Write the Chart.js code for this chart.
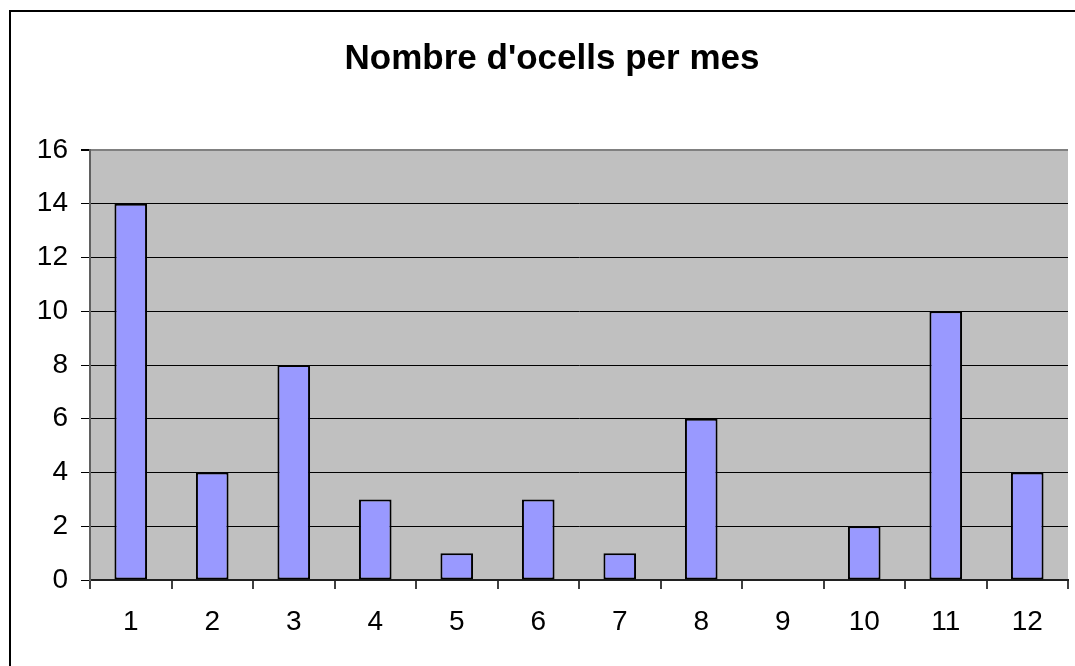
<!DOCTYPE html>
<html>
<head>
<meta charset="utf-8">
<script src="https://cdn.jsdelivr.net/npm/chart.js@4.4.1/dist/chart.umd.min.js"></script>
<style>
  html,body{margin:0;padding:0;background:#fff;overflow:hidden;}
  #frame{position:absolute;left:9px;top:10px;width:2000px;height:2000px;border:2px solid #000;box-sizing:border-box;}
  #c{position:absolute;left:0;top:0;}
</style>
</head>
<body>
<div id="frame"></div>
<canvas id="c" width="1075" height="666"></canvas>
<script>
const months=['1','2','3','4','5','6','7','8','9','10','11','12'];
const birds=[14,4,8,3,1,3,1,6,0,2,10,4];
const yMin=0, yMax=16, yStep=2;
const titleText="Nombre d'ocells per mes";
const fam="'Liberation Sans', Arial, sans-serif";

// grey plot area + title centred on the outer frame (not the canvas)
const plotBg={id:'plotBg',beforeDraw(chart){const a=chart.chartArea,ctx=chart.ctx;ctx.save();ctx.fillStyle='#C0C0C0';ctx.fillRect(a.left,a.top,a.right-a.left,a.bottom-a.top);ctx.restore();}};
const titleDraw={id:'titleDraw',afterDraw(chart){const ctx=chart.ctx;ctx.save();ctx.font='bold 35px '+fam;ctx.fillStyle='#000';ctx.textAlign='center';ctx.textBaseline='alphabetic';ctx.fillText(titleText,552,69);ctx.restore();}};
const font={family:fam,size:28};

new Chart(document.getElementById('c'),{
  type:'bar',
  data:{labels:months,datasets:[{data:birds,backgroundColor:'#9999FF',borderColor:'#000',borderWidth:2,borderSkipped:false,barPercentage:0.4,categoryPercentage:1}]},
  options:{
    responsive:false,animation:false,devicePixelRatio:1,
    layout:{padding:{left:0,right:7,top:150,bottom:0}},
    plugins:{legend:{display:false},tooltip:{enabled:false},title:{display:false}},
    scales:{
      x:{
        offset:true,
        grid:{offset:true,drawOnChartArea:true,color:c=>c.index===12?'#808080':'rgba(0,0,0,0)',tickColor:'#404040',tickLength:9,lineWidth:2},
        border:{color:'#202020',width:2},
        ticks:{color:'#000',font,padding:16,maxRotation:0},
        afterFit(s){s.height=86;}
      },
      y:{
        min:yMin,max:yMax,
        ticks:{stepSize:yStep,color:'#000',font,padding:13},
        grid:{color:c=>c.tick&&c.tick.value===yMax?'#808080':'#000',tickColor:'#000',tickLength:9,lineWidth:c=>c.tick&&c.tick.value===yMax?2:1},
        border:{color:'#606060',width:2},
        afterFit(s){s.width=90;}
      }
    }
  },
  plugins:[plotBg,titleDraw]
});
</script>
</body>
</html>
